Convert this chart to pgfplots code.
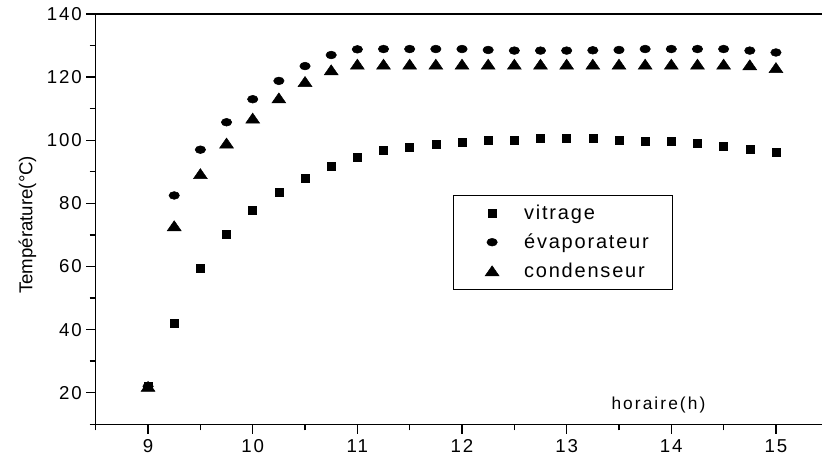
\documentclass[border=0pt]{standalone}
\usepackage{fontspec}
\setmainfont{Liberation Sans}
\usepackage{pgfplots}
\pgfplotsset{compat=1.18}
\begin{document}
\begin{tikzpicture}
\path[use as bounding box] (-71.8pt,-26pt) rectangle (544.7pt,318.2pt);
\begin{axis}[
  at={(0pt,0pt)}, anchor=south west, scale only axis,
  width=544.7pt, height=307.7pt,
  xmin=8.5, xmax=15.44, ymin=10, ymax=140,
  axis x line=box, axis y line=left,
  axis line style={-, line width=1.1pt},
  every tick/.style={black, line width=1pt},
  tick align=outside, xtick pos=left, ytick pos=left,
  major tick length=7pt, minor tick length=4.5pt,
  xtick={9,10,11,12,13,14,15},
  minor xtick={8.5,9.5,10.5,11.5,12.5,13.5,14.5},
  ytick={20,40,60,80,100,120,140},
  minor ytick={10,30,50,70,90,110,130},
  /pgf/number format/assume math mode=true,
  ticklabel style={font=\fontsize{14}{16}\selectfont\addfontfeature{LetterSpace=10}},
  xticklabel style={inner sep=1pt, yshift=-3.5pt},
  ylabel={Température(°C)},
  ylabel style={at={(axis description cs:-0.094,0.486)}, anchor=center, font=\fontsize{14}{16}\selectfont},
  legend style={at={(axis cs:11.917,82.66)}, anchor=north west, draw=black, line width=0.6pt,
    font=\fontsize{15}{18}\selectfont\addfontfeature{LetterSpace=9},
    inner xsep=6pt, inner ysep=7.5pt, row sep=9pt,
    nodes={inner sep=0pt},
    cells={anchor=west}},
  legend image code/.code={\path[draw=none] (-22.8pt,-3pt) rectangle (24pt,3pt);
    \draw[#1, only marks, mark repeat=2, mark phase=2, line width=0.4pt] plot coordinates {(-5pt,0pt) (0pt,0pt) (5pt,0pt)};},
]
\addplot[only marks, mark=square*, mark size=3pt, black] coordinates {
(9,22) (9.25,41.9) (9.5,59.3) (9.75,70.3) (10,77.7) (10.25,83.5) (10.5,88.0) (10.75,91.7)
(11,94.7) (11.25,96.7) (11.5,97.8) (11.75,98.8) (12,99.4) (12.25,100.1) (12.5,100.1)
(12.75,100.7) (13,100.7) (13.25,100.7) (13.5,100.1) (13.75,99.8) (14,99.6) (14.25,98.9)
(14.5,98.2) (14.75,97.2) (15,96.2)};
\addlegendentry{vitrage}
\addplot[only marks, mark=*, mark size=2.9pt, mark options={xscale=1.35}, black] coordinates {
(9,22) (9.25,82.5) (9.5,97.0) (9.75,105.7) (10,113.0) (10.25,118.8) (10.5,123.5) (10.75,127.0)
(11,128.8) (11.25,128.9) (11.5,128.9) (11.75,128.9) (12,128.9) (12.25,128.6) (12.5,128.4)
(12.75,128.4) (13,128.4) (13.25,128.5) (13.5,128.6) (13.75,128.9) (14,128.9) (14.25,128.9)
(14.5,128.9) (14.75,128.4) (15,127.8)};
\addlegendentry{évaporateur\hspace*{12pt}}
\addplot[only marks, mark=triangle*, mark size=5pt, mark options={xscale=1.2, yshift=-1.25pt}, black] coordinates {
(9,22) (9.25,72.9) (9.5,89.4) (9.75,99.1) (10,107.0) (10.25,113.4) (10.5,118.6) (10.75,122.3)
(11,124.1) (11.25,124.1) (11.5,124.1) (11.75,124.1) (12,124.1) (12.25,124.1) (12.5,124.1)
(12.75,124.1) (13,124.1) (13.25,124.1) (13.5,124.1) (13.75,124.1) (14,124.1) (14.25,124.1)
(14.5,124.1) (14.75,123.9) (15,123.0)};
\addlegendentry{condenseur}
\node[font=\fontsize{13}{15}\selectfont\addfontfeature{LetterSpace=12}] at (axis cs:13.877,16.1) {horaire(h)};
\end{axis}
\end{tikzpicture}
\end{document}
